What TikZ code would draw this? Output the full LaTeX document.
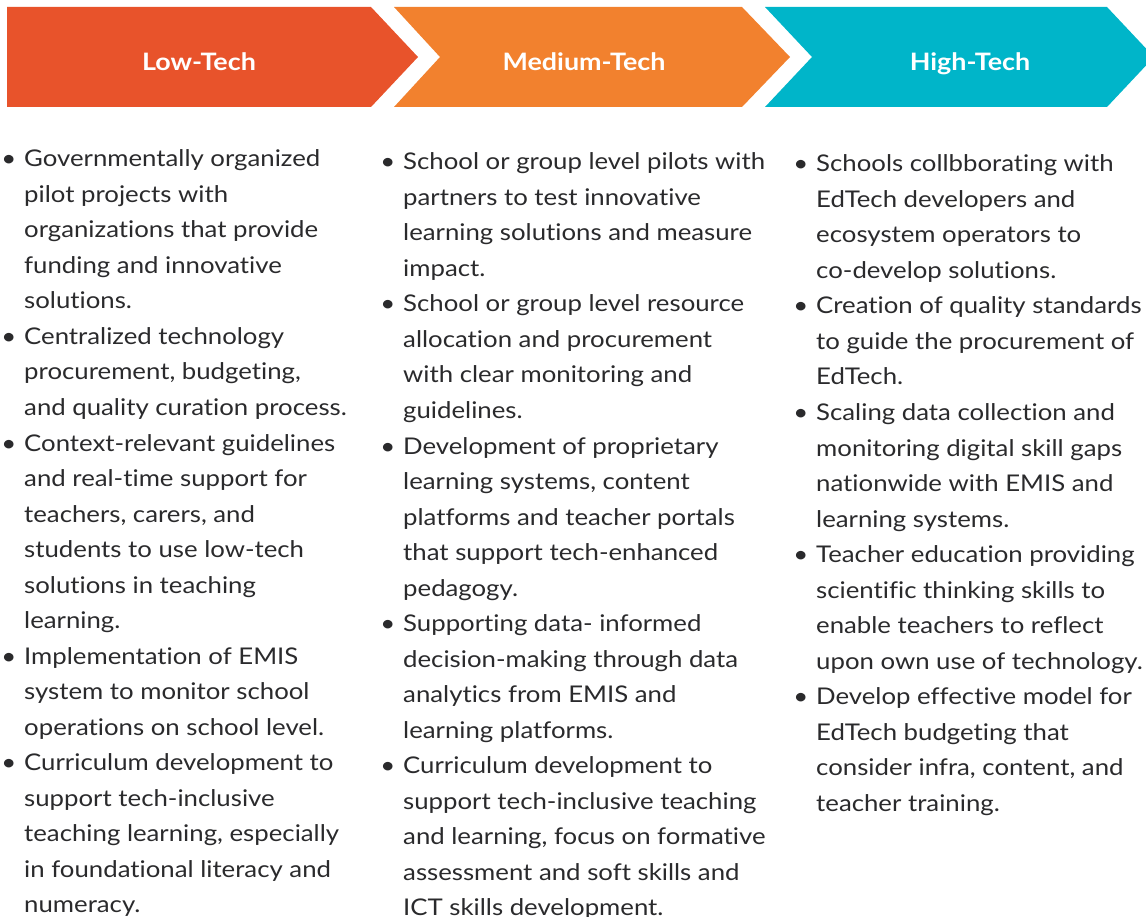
\documentclass[tikz,border=0pt]{standalone}
\usepackage{fontspec}
\setmainfont{Lato}[FakeStretch=1.12,Ligatures=NoCommon]
\definecolor{lowred}{HTML}{E8532B}
\definecolor{medorange}{HTML}{F2812E}
\definecolor{highteal}{HTML}{00B5C9}
\definecolor{ink}{HTML}{2A2A2C}
\newcommand{\bul}{\llap{\textbullet\hspace{8pt}}}
\newcommand{\itemlines}[1]{\begin{tabular}[t]{@{}l@{}}#1\end{tabular}}
\tikzset{
  headtxt/.style={anchor=base, text=white, inner sep=0pt, font={\fontsize{24}{28}\selectfont\bfseries}},
  itemtxt/.style={anchor=base west, inner sep=0pt, text=ink, font={\fontsize{23}{35.5}\selectfont}},
}
\begin{document}
\begin{tikzpicture}[x=1pt,y=1pt]
\useasboundingbox (0,0) rectangle (1146,-917);
\clip (0,0) rectangle (1146,-917);
% chevrons
\fill[lowred] (7,-7) -- (371,-7) -- (418,-57) -- (371,-107) -- (7,-107) -- cycle;
\fill[medorange] (394,-7) -- (742,-7) -- (790,-57) -- (742,-107) -- (394,-107) -- (440,-57) -- cycle;
\fill[highteal] (765,-7) -- (1107,-7) -- (1154,-57) -- (1107,-107) -- (765,-107) -- (812,-57) -- cycle;
\node[headtxt] (hlow) at (199,-71) {Low-Tech};
\node[headtxt] (hmed) at (584,-71) {Medium-Tech};
\node[headtxt] (hhigh) at (970,-71) {High-Tech};
% column 1
\node[itemtxt] (l1) at (24,-167) {\itemlines{\bul Governmentally organized\\pilot projects with\\organizations that provide\\funding and innovative\\solutions.}};
\node[itemtxt] (l2) at (24,-344.5) {\itemlines{\bul Centralized technology\\procurement, budgeting,\\and quality curation process.}};
\node[itemtxt] (l3) at (24,-451) {\itemlines{\bul Context-relevant guidelines\\and real-time support for\\teachers, carers, and\\students to use low-tech\\solutions in teaching\\learning.}};
\node[itemtxt] (l4) at (24,-664) {\itemlines{\bul Implementation of EMIS\\system to monitor school\\operations on school level.}};
\node[itemtxt] (l5) at (24,-770.5) {\itemlines{\bul Curriculum development to\\support tech-inclusive\\teaching learning, especially\\in foundational literacy and\\numeracy.}};
% column 2
\node[itemtxt] (m1) at (403,-170) {\itemlines{\bul School or group level pilots with\\partners to test innovative\\learning solutions and measure\\impact.}};
\node[itemtxt] (m2) at (403,-312) {\itemlines{\bul School or group level resource\\allocation and procurement\\with clear monitoring and\\guidelines.}};
\node[itemtxt] (m3) at (403,-454) {\itemlines{\bul Development of proprietary\\learning systems, content\\platforms and teacher portals\\that support tech-enhanced\\pedagogy.}};
\node[itemtxt] (m4) at (403,-631.5) {\itemlines{\bul Supporting data- informed\\decision-making through data\\analytics from EMIS and\\learning platforms.}};
\node[itemtxt] (m5) at (403,-773.5) {\itemlines{\bul Curriculum development to\\support tech-inclusive teaching\\and learning, focus on formative\\assessment and soft skills and\\ICT skills development.}};
% column 3
\node[itemtxt] (h1) at (816,-172) {\itemlines{\bul Schools collbborating with\\EdTech developers and\\ecosystem operators to\\co-develop solutions.}};
\node[itemtxt] (h2) at (816,-314) {\itemlines{\bul Creation of quality standards\\to guide the procurement of\\EdTech.}};
\node[itemtxt] (h3) at (816,-420.5) {\itemlines{\bul Scaling data collection and\\monitoring digital skill gaps\\nationwide with EMIS and\\learning systems.}};
\node[itemtxt] (h4) at (816,-562.5) {\itemlines{\bul Teacher education providing\\scientific thinking skills to\\enable teachers to reflect\\upon own use of technology.}};
\node[itemtxt] (h5) at (816,-704.5) {\itemlines{\bul Develop effective model for\\EdTech budgeting that\\consider infra, content, and\\teacher training.}};
\end{tikzpicture}
\end{document}
